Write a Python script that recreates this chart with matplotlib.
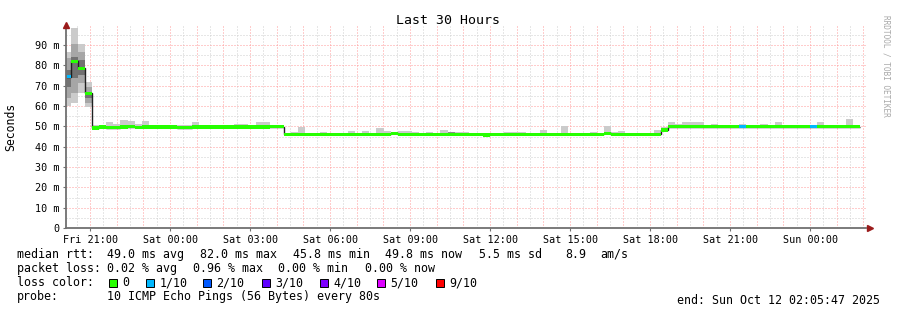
import numpy as np
import matplotlib
matplotlib.use("Agg")
import matplotlib.pyplot as plt
from matplotlib.patches import Rectangle

plt.rcParams['font.family'] = ['DejaVu Sans Mono']

# consolidated 16 minute steps, time in hours counted from Fri 00:00
step_hours = 16 / 60
first_step = 20.0064
view_start = 20.0964   # Fri 20:05:47
view_end = 50.0964     # Sun 02:05:47

n = np.nan

median_ms = [
    74.4, 82.0, 78.5, 66.2, 49.3, 49.7, 49.4, 49.4, 49.7, 49.8,
    49.5, 49.6, 49.6, 49.6, 49.6, 49.6, 49.4, 49.4, 49.6, 49.6,
    49.7, 49.7, 49.6, 49.6, 49.6, 49.6, 49.6, 49.7, 49.7, 49.8,
    49.8, 46.1, 46.1, 46.1, 46.1, 46.1, 46.1, 46.1, 46.1, 46.1,
    46.1, 46.1, 46.1, 46.1, 46.1, 46.1, 46.5, 46.1, 46.1, 46.1,
    46.1, 46.1, 46.1, 46.1, 46.1, 46.1, 46.0, 46.0, 46.0, 45.8,
    46.0, 46.0, 46.0, 46.0, 46.0, 46.0, 46.0, 46.0, 46.0, 46.0,
    46.0, 46.0, 46.0, 46.0, 46.0, 46.0, 46.6, 46.1, 46.1, 46.1,
    46.1, 46.1, 46.1, 46.1, 48.3, 49.8, 49.8, 49.9, 49.9, 49.9,
    49.8, 49.8, 49.8, 49.8, 49.8, 49.8, 49.8, 49.8, 49.8, 49.8,
    49.8, 49.8, 49.8, 49.8, 49.8, 49.8, 49.8, 49.8, 49.8, 49.8,
    49.8, 49.8,
]

smoke_top = [
    86.8, 98.2, 90.5, 72.0, 50.8, n, 51.9, 51.2, 53.2, 52.7,
    51.2, 52.7, n, n, 50.9, n, 50.9, 50.9, 52.2, 50.9,
    n, n, 50.9, n, 51.4, 51.4, n, 52.2, 52.0, 50.7,
    50.7, n, 47.3, 49.8, n, n, 47.3, n, 46.8, n,
    47.8, n, 47.8, n, 49.3, 47.8, n, 47.8, 47.8, 47.3,
    n, 47.3, n, 48.3, 47.3, 47.3, 47.3, n, n, 46.7,
    46.7, n, 47.3, 47.3, 47.3, n, n, 48.3, n, n,
    50.2, n, n, n, 47.3, n, 50.2, 47.3, 47.8, n,
    n, 46.8, n, 48.3, 49.8, 51.9, 51.2, 51.9, 51.9, 51.9,
    n, 51.2, n, 50.9, n, 51.2, n, n, 51.2, n,
    52.2, n, n, n, n, n, 52.2, n, 50.9, 50.9,
    53.7, 50.9,
]

# the start-up spike has a spread of pings around the median
spike_floor = [59.8, 61.6, 66.2, 59.4]
spike_mid_lo = [63.8, 66.2, 71.2, 61.3]
spike_mid_hi = [83.5, 90.5, 86.7, 69.5]
spike_core_lo = [69.5, 73.6, 75.3, 63.8]
spike_core_hi = [77.7, 84.3, 82.6, 67.0]

dark_steps = [54, 81]
dark_top = [47.0, 46.8]

lossy_steps = [0, 95, 105]
lossy_tenths = [1, 1, 1]

tick_hours = [21, 24, 27, 30, 33, 36, 39, 42, 45, 48]
tick_labels = ["Fri 21:00", "Sat 00:00", "Sat 03:00", "Sat 06:00", "Sat 09:00",
               "Sat 12:00", "Sat 15:00", "Sat 18:00", "Sat 21:00", "Sun 00:00"]
y_ticks = [0, 10, 20, 30, 40, 50, 60, 70, 80, 90]
y_labels = ["0", "10 m", "20 m", "30 m", "40 m", "50 m", "60 m", "70 m", "80 m", "90 m"]

loss_names = ["0", "1/10", "2/10", "3/10", "4/10", "5/10", "9/10"]
loss_colors = ["#26ff00", "#00b8ff", "#0059ff", "#5e00ff", "#7e00ff", "#dd00ff", "#ff0000"]

W, H = 897, 310
fig = plt.figure(figsize=(W / 100, H / 100), dpi=100)
ax = fig.add_axes([66 / W, (H - 228) / H, 800 / W, 203.3 / H])
ax.set_xlim(view_start, view_end)
ax.set_ylim(0, 100)

# grid
dots = (0, (1, 2))
for h in np.arange(20.5, view_end, 1.0):
    ax.axvline(h, color="#cfcfcf", lw=0.72, ls=dots, zorder=1)
for h in np.arange(21, view_end, 1.0):
    ax.axvline(h, color="#ff9a9a", lw=0.72, ls=dots, zorder=1)
for v in np.arange(5, 100, 10):
    ax.axhline(v, color="#cfcfcf", lw=0.72, ls=dots, zorder=1)
for v in np.arange(10, 100, 10):
    ax.axhline(v, color="#ff9a9a", lw=0.72, ls=dots, zorder=1)

med = np.array(median_ms)
top = np.array(smoke_top)
edges = first_step + step_hours * np.arange(len(med) + 1)
centers = edges[:-1] + step_hours / 2

bottom = med.copy()
k = len(spike_floor)
bottom[:k] = spike_floor
has = ~np.isnan(top)
ax.bar(centers[has], top[has] - bottom[has], bottom=bottom[has], width=step_hours,
       color="#cbcbcb", linewidth=0, zorder=2)
ax.bar(centers[:k], np.subtract(spike_mid_hi, spike_mid_lo), bottom=spike_mid_lo,
       width=step_hours, color="#a6a6a6", linewidth=0, zorder=2)
ax.bar(centers[:k], np.subtract(spike_core_hi, spike_core_lo), bottom=spike_core_lo,
       width=step_hours, color="#727272", linewidth=0, zorder=2)
ax.bar(centers[dark_steps], np.array(dark_top) - med[dark_steps], bottom=med[dark_steps],
       width=step_hours, color="#8a8a8a", linewidth=0, zorder=2)

ax.stairs(med, edges, baseline=None, color="#202020", lw=1.0, zorder=4)

band_colors = [loss_colors[0]] * len(med)
for s, t in zip(lossy_steps, lossy_tenths):
    band_colors[s] = loss_colors[t]
ax.bar(centers, 1.7, bottom=med - 0.85, width=step_hours, color=band_colors,
       linewidth=0, zorder=5)

# axes
for side in ["top", "right"]:
    ax.spines[side].set_visible(False)
for side in ["left", "bottom"]:
    ax.spines[side].set_color("#707070")
    ax.spines[side].set_linewidth(1.3)
    ax.spines[side].set_zorder(6)
ax.plot([0], [1.0], marker="^", ms=5, color="#9b1b1b", transform=ax.transAxes,
        clip_on=False, zorder=7)
ax.plot([1.005], [0], marker=">", ms=5, color="#9b1b1b", transform=ax.transAxes,
        clip_on=False, zorder=7)

ax.set_xticks(tick_hours)
ax.set_xticklabels(tick_labels, fontsize=7.3)
ax.set_yticks(y_ticks)
ax.set_yticklabels(y_labels, fontsize=7.3)
ax.tick_params(length=2, width=0.8, color="#707070", pad=3)
ax.set_facecolor("white")

# texts
fig.text(448 / W, 1 - 20 / H, "Last 30 Hours", ha="center", va="center", fontsize=9.5)
fig.text(11 / W, 1 - 127 / H, "Seconds", rotation=90, ha="center", va="center", fontsize=8.3)
fig.text(886 / W, 1 - 66 / H, "RRDTOOL / TOBI OETIKER", rotation=270, ha="center",
         va="center", fontsize=5.6, color="#a8a8a8")

fs = 8.4
def row(x, y, s, **kw):
    fig.text(x / W, 1 - y / H, s, ha="left", va="center", fontsize=fs, **kw)

row(16.5, 254.3, "median rtt:")
for x, s in [(107, "49.0 ms avg"), (200, "82.0 ms max"), (293, "45.8 ms min"),
             (385, "49.8 ms now"), (479, "5.5 ms sd"), (565, "8.9"), (600, "am/s")]:
    row(x, 254.3, s)
row(16.5, 268.3, "packet loss:")
for x, s in [(107, "0.02 % avg"), (193, "0.96 % max"), (278, "0.00 % min"),
             (365, "0.00 % now")]:
    row(x, 268.3, s)
row(16.5, 282.7, "loss color:")
box_x = [109, 146, 203, 262, 320, 377, 436]
for bx, name, c in zip(box_x, loss_names, loss_colors):
    fig.add_artist(Rectangle((bx / W, 1 - 286.5 / H), 7.5 / W, 7.5 / H, transform=fig.transFigure,
                             facecolor=c, edgecolor="black", linewidth=0.7))
    row(bx + 13.5, 282.7, name)
row(16.5, 296.7, "probe:")
row(107, 296.7, "10 ICMP Echo Pings (56 Bytes) every 80s")
fig.text(880 / W, 1 - 300.7 / H, "end: Sun Oct 12 02:05:47 2025", ha="right", va="center",
         fontsize=fs)

fig.savefig("out.png", dpi=100, facecolor="white")
